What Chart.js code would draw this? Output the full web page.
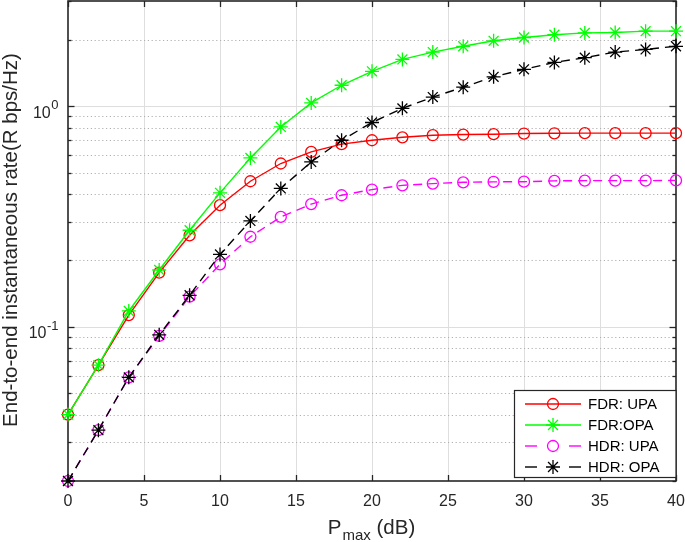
<!DOCTYPE html>
<html>
<head>
<meta charset="utf-8">
<script src="https://cdn.jsdelivr.net/npm/chart.js@4.4.1/dist/chart.umd.min.js"></script>
<style>
  body { margin: 0; background: #fff; }
  #chart { display: block; }
</style>
</head>
<body>
<canvas id="chart" width="685" height="542"></canvas>
<script>
// x values (dB)
const pmax = [0, 2, 4, 6, 8, 10, 12, 14, 16, 18, 20, 22, 24, 26, 28, 30, 32, 34, 36, 38, 40];

// series values
const fdrUpa = [0.040, 0.067, 0.113, 0.176, 0.260, 0.356, 0.457, 0.550, 0.621, 0.673, 0.701, 0.723, 0.739, 0.744, 0.747, 0.752, 0.754, 0.755, 0.755, 0.755, 0.755];
const fdrOpa = [0.040, 0.067, 0.118, 0.181, 0.274, 0.405, 0.583, 0.806, 1.035, 1.245, 1.44, 1.63, 1.76, 1.87, 1.98, 2.05, 2.11, 2.15, 2.16, 2.19, 2.19];
const hdrUpa = [0.020, 0.034, 0.059, 0.091, 0.137, 0.192, 0.256, 0.315, 0.360, 0.395, 0.419, 0.438, 0.446, 0.452, 0.454, 0.455, 0.459, 0.460, 0.460, 0.460, 0.461];
const hdrOpa = [0.020, 0.034, 0.059, 0.092, 0.139, 0.213, 0.302, 0.424, 0.559, 0.701, 0.844, 0.978, 1.10, 1.22, 1.36, 1.47, 1.58, 1.66, 1.76, 1.81, 1.87];

const seriesNames = ["FDR: UPA", "FDR:OPA", "HDR: UPA", "HDR: OPA"];
const yTickExponents = [-1, 0];

const FONT = '"Liberation Sans", Arial, sans-serif';
const AXIS_COLOR = "#262626";

function points(values) {
    return pmax.map((p, i) => ({ x: p, y: values[i] }));
}

function makeSet(label, values, color, style, dashed, order) {
    return {
        label: label,
        data: points(values),
        borderColor: color,
        backgroundColor: "rgba(0,0,0,0)",
        borderWidth: 1.4,
        borderDash: dashed ? [9, 6] : [],
        pointStyle: style,
        pointRadius: style === "star" ? 7 : 5.5,
        pointBorderWidth: 1.3,
        pointBorderColor: color,
        pointBackgroundColor: "rgba(0,0,0,0)",
        tension: 0,
        clip: false,
        order: order
    };
}

const datasets = [
    makeSet(seriesNames[0], fdrUpa, "#ff0000", "circle", false, 4),
    makeSet(seriesNames[1], fdrOpa, "#00ff00", "star", false, 3),
    makeSet(seriesNames[2], hdrUpa, "#ff00ff", "circle", true, 2),
    makeSet(seriesNames[3], hdrOpa, "#000000", "star", true, 1)
];

function isWholeMantissa(v) {
    const m = v / Math.pow(10, Math.floor(Math.log10(v) + 1e-9));
    return Math.abs(m - Math.round(m)) < 1e-6;
}

function line(ctx, x1, y1, x2, y2) {
    ctx.beginPath();
    ctx.moveTo(x1, y1);
    ctx.lineTo(x2, y2);
    ctx.stroke();
}

// drop the extra space chart.js keeps for tick label overhang
function noPadding(s) {
    s.paddingLeft = 0;
    s.paddingRight = 0;
    s.paddingTop = 0;
    s.paddingBottom = 0;
}

// grid, box and inward ticks, MATLAB style
const framePlugin = {
    id: "frame",
    beforeDatasetsDraw(chart) {
        const { ctx, chartArea: a, scales: { x, y } } = chart;
        ctx.save();
        ctx.lineWidth = 1;

        // vertical grid
        ctx.strokeStyle = "#dedede";
        x.ticks.forEach(t => {
            if (t.value <= x.min || t.value >= x.max) return;
            const px = Math.round(x.getPixelForValue(t.value)) + 0.5;
            line(ctx, px, a.top, px, a.bottom);
        });

        // horizontal grid: decades solid, the rest dotted
        y.ticks.forEach(t => {
            if (!isWholeMantissa(t.value) || t.value <= y.min || t.value >= y.max) return;
            const py = Math.round(y.getPixelForValue(t.value)) + 0.5;
            const decade = Math.abs(Math.log10(t.value) - Math.round(Math.log10(t.value))) < 1e-6;
            if (decade) {
                ctx.setLineDash([]);
                ctx.strokeStyle = "#dedede";
            } else {
                ctx.setLineDash([1.2, 2.6]);
                ctx.strokeStyle = "#b0b0b0";
            }
            line(ctx, a.left, py, a.right, py);
        });
        ctx.setLineDash([]);

        // ticks
        ctx.strokeStyle = AXIS_COLOR;
        ctx.lineWidth = 1.3;
        x.ticks.forEach(t => {
            const px = Math.round(x.getPixelForValue(t.value)) + 0.5;
            line(ctx, px, a.bottom, px, a.bottom - 6);
            line(ctx, px, a.top, px, a.top + 6);
        });
        y.ticks.forEach(t => {
            if (!isWholeMantissa(t.value)) return;
            const py = Math.round(y.getPixelForValue(t.value)) + 0.5;
            const decade = Math.abs(Math.log10(t.value) - Math.round(Math.log10(t.value))) < 1e-6;
            const len = decade ? 6.5 : 3.5;
            line(ctx, a.left, py, a.left + len, py);
            line(ctx, a.right, py, a.right - len, py);
        });

        // box
        ctx.lineWidth = 1.6;
        ctx.strokeRect(a.left, a.top, a.right - a.left, a.bottom - a.top);
        ctx.restore();
    },
    afterDraw(chart) {
        const { ctx, chartArea: a, scales: { y } } = chart;
        ctx.save();
        ctx.fillStyle = AXIS_COLOR;

        // y tick labels 10^n
        yTickExponents.forEach(e => {
            const py = y.getPixelForValue(Math.pow(10, e));
            const sup = String(e);
            ctx.font = "13px " + FONT;
            const supW = ctx.measureText(sup).width;
            const right = a.left - 9.5;
            ctx.textAlign = "left";
            ctx.textBaseline = "alphabetic";
            ctx.fillText(sup, right - supW, py + 3);
            ctx.font = "16px " + FONT;
            ctx.textAlign = "right";
            ctx.fillText("10", right - supW - 0.5, py + 11.3);
        });

        // y axis title
        ctx.save();
        ctx.translate(16.7, (a.top + a.bottom) / 2 - 1);
        ctx.rotate(-Math.PI / 2);
        ctx.font = "20.5px " + FONT;
        ctx.textAlign = "center";
        ctx.textBaseline = "alphabetic";
        ctx.fillText("End-to-end instantaneous rate(R bps/Hz)", 0, 0);
        ctx.restore();

        // x axis title P_max (dB)
        ctx.textAlign = "left";
        ctx.textBaseline = "alphabetic";
        ctx.font = "20.5px " + FONT;
        const wP = ctx.measureText("P").width;
        const wRest = ctx.measureText(" (dB)").width;
        ctx.font = "15px " + FONT;
        const wSub = ctx.measureText("max").width;
        const x0 = (a.left + a.right) / 2 - (wP + wSub + wRest) / 2 - 1;
        ctx.font = "20.5px " + FONT;
        ctx.fillText("P", x0, 533.5);
        ctx.font = "15px " + FONT;
        ctx.fillText("max", x0 + wP + 1, 539.5);
        ctx.font = "20.5px " + FONT;
        ctx.fillText(" (dB)", x0 + wP + wSub + 1, 533.5);

        // legend
        const bx = 514.5, by = 390.5, bw = a.right - 514.5, bh = 87;
        ctx.fillStyle = "#ffffff";
        ctx.fillRect(bx, by, bw, bh);
        ctx.strokeStyle = AXIS_COLOR;
        ctx.lineWidth = 1.2;
        ctx.strokeRect(bx, by, bw, bh);
        const rows = [404, 425, 446, 467];
        chart.data.datasets.forEach((ds, i) => {
            const ry = rows[i];
            ctx.strokeStyle = ds.borderColor;
            ctx.lineWidth = ds.borderWidth;
            if (ds.borderDash.length) {
                line(ctx, 525, ry, 537, ry);
                line(ctx, 569, ry, 581, ry);
            } else {
                line(ctx, 525, ry, 581, ry);
            }
            ctx.fillStyle = "rgba(0,0,0,0)";
            ctx.lineWidth = ds.pointBorderWidth;
            Chart.helpers.drawPoint(ctx, {
                pointStyle: ds.pointStyle,
                radius: ds.pointRadius,
                rotation: 0,
                borderWidth: ds.pointBorderWidth
            }, 553, ry);
            ctx.fillStyle = "#000000";
            ctx.font = "15px " + FONT;
            ctx.textAlign = "left";
            ctx.textBaseline = "middle";
            ctx.fillText(ds.label, 588, ry + 0.5);
        });
        ctx.restore();
    }
};

const chart = new Chart(document.getElementById("chart"), {
    type: "line",
    data: { datasets: datasets },
    options: {
        responsive: false,
        animation: false,
        layout: { autoPadding: false, padding: { left: 0, top: 1, right: 9, bottom: 0 } },
        plugins: {
            legend: { display: false },
            tooltip: { enabled: false }
        },
        scales: {
            x: {
                type: "linear",
                min: 0,
                max: 40,
                ticks: {
                    stepSize: 5,
                    color: AXIS_COLOR,
                    font: { family: FONT, size: 16 },
                    padding: 11,
                    maxRotation: 0
                },
                grid: { display: false, drawTicks: false },
                border: { display: false },
                afterFit: s => { s.height = 61; noPadding(s); }
            },
            y: {
                type: "logarithmic",
                min: 0.02,
                max: 3,
                ticks: { display: false, autoSkip: false },
                grid: { display: false, drawTicks: false },
                border: { display: false },
                afterFit: s => { s.width = 68; noPadding(s); }
            }
        }
    },
    plugins: [framePlugin]
});
</script>
</body>
</html>
